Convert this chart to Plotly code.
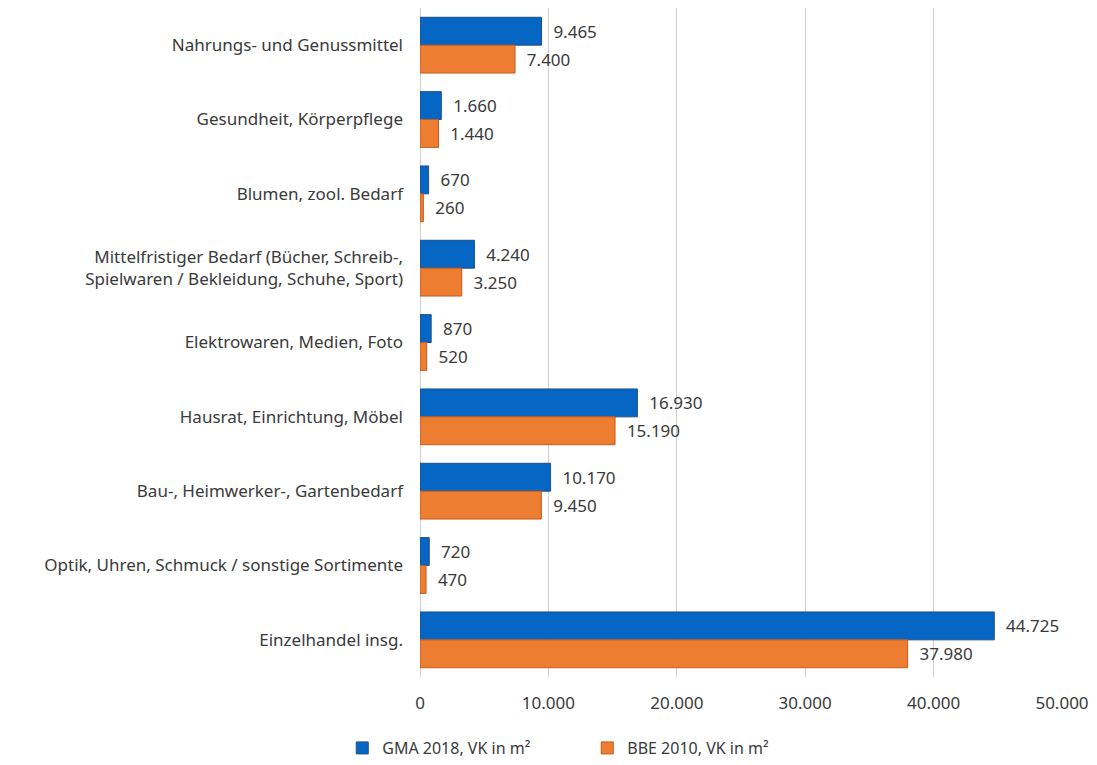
import plotly.graph_objects as go

categories = [
    "Nahrungs- und Genussmittel",
    "Gesundheit, Körperpflege",
    "Blumen, zool. Bedarf",
    "Mittelfristiger Bedarf (Bücher, Schreib-,<br>Spielwaren / Bekleidung, Schuhe, Sport)",
    "Elektrowaren, Medien, Foto",
    "Hausrat, Einrichtung, Möbel",
    "Bau-, Heimwerker-, Gartenbedarf",
    "Optik, Uhren, Schmuck / sonstige Sortimente",
    "Einzelhandel insg.",
]
gma_2018 = [9465, 1660, 670, 4240, 870, 16930, 10170, 720, 44725]
bbe_2010 = [7400, 1440, 260, 3250, 520, 15190, 9450, 470, 37980]
x_ticks = [0, 10000, 20000, 30000, 40000, 50000]

BLUE = "#0566C4"
ORANGE = "#ED7D31"
TEXT = "#3A3A3A"
FONT = "Noto Sans"
SIZE = 17

fig = go.Figure()
for name, vals, color, edge in [
    ("GMA 2018, VK in m²", gma_2018, BLUE, "#1F4E8C"),
    ("BBE 2010, VK in m²", bbe_2010, ORANGE, "#C65A1E"),
]:
    fig.add_trace(go.Bar(
        y=categories, x=vals, orientation="h", name=name,
        marker=dict(color=color, line=dict(color=edge, width=1)),
        texttemplate="\u00a0\u00a0%{x:,}", textposition="outside",
        textfont=dict(family=FONT, size=SIZE, color=TEXT),
        cliponaxis=False,
    ))

fig.update_layout(
    width=1097, height=765,
    margin=dict(l=420, r=29, t=8, b=88),
    paper_bgcolor="white", plot_bgcolor="white",
    barmode="group", bargap=0.25, bargroupgap=0,
    separators=",.",
    font=dict(family=FONT, size=SIZE, color=TEXT),
    legend=dict(orientation="h", xref="container", x=0.312, xanchor="left",
                yref="container", y=0.0, yanchor="bottom",
                font=dict(family=FONT, size=16, color=TEXT),
                itemwidth=30, entrywidth=200, entrywidthmode="pixels"),
    xaxis=dict(range=[0, 50000], tickvals=x_ticks, tickformat=",",
               showgrid=True, gridcolor="#D0D0D0", gridwidth=1,
               zeroline=True, zerolinecolor="#D0D0D0", zerolinewidth=1,
               showline=False, ticks="", ticklabelstandoff=14,
               tickfont=dict(family=FONT, size=SIZE, color=TEXT)),
    yaxis=dict(autorange="reversed", showgrid=False, showline=False,
               ticks="", ticklabelstandoff=16,
               tickfont=dict(family=FONT, size=SIZE, color=TEXT)),
)

fig.write_html("out.html")
